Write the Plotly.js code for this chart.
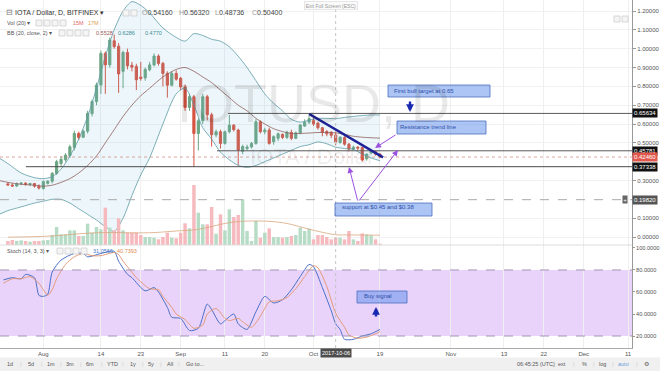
<!DOCTYPE html>
<html><head><meta charset="utf-8">
<script src="https://cdn.plot.ly/plotly-3.0.1.min.js"></script>
<style>html,body{margin:0;padding:0;background:#fff;}#chart{width:660px;height:371px;}</style>
</head><body><div id="chart"></div>
<script>
// ---------- DATA ----------
const dates = ['2017-07-24','2017-07-25','2017-07-26','2017-07-27','2017-07-28','2017-07-29','2017-07-30','2017-07-31',
'2017-08-01','2017-08-02','2017-08-03','2017-08-04','2017-08-05','2017-08-06','2017-08-07','2017-08-08','2017-08-09','2017-08-10',
'2017-08-11','2017-08-12','2017-08-13','2017-08-14','2017-08-15','2017-08-16','2017-08-17','2017-08-18','2017-08-19','2017-08-20',
'2017-08-21','2017-08-22','2017-08-23','2017-08-24','2017-08-25','2017-08-26','2017-08-27','2017-08-28','2017-08-29','2017-08-30','2017-08-31',
'2017-09-01','2017-09-02','2017-09-03','2017-09-04','2017-09-05','2017-09-06','2017-09-07','2017-09-08','2017-09-09','2017-09-10',
'2017-09-11','2017-09-12','2017-09-13','2017-09-14','2017-09-15','2017-09-16','2017-09-17','2017-09-18','2017-09-19','2017-09-20',
'2017-09-21','2017-09-22','2017-09-23','2017-09-24','2017-09-25','2017-09-26','2017-09-27','2017-09-28','2017-09-29','2017-09-30',
'2017-10-01','2017-10-02','2017-10-03','2017-10-04','2017-10-05','2017-10-06','2017-10-07','2017-10-08','2017-10-09','2017-10-10',
'2017-10-11','2017-10-12','2017-10-13','2017-10-14','2017-10-15','2017-10-16'];

const openP = [0.282,0.276,0.271,0.283,0.286,0.279,0.284,0.270,0.258,0.285,
0.296,0.338,0.390,0.410,0.432,0.475,0.550,0.530,0.562,0.655,
0.719,0.807,0.975,0.914,1.042,1.013,0.880,0.980,0.912,0.906,
0.849,0.845,0.888,0.914,0.961,0.922,0.869,0.806,0.869,0.843,
0.797,0.688,0.745,0.550,0.617,0.745,0.649,0.542,0.559,0.497,
0.559,0.594,0.568,0.455,0.470,0.478,0.497,0.612,0.559,0.568,
0.506,0.524,0.545,0.529,0.556,0.524,0.553,0.589,0.610,0.618,
0.605,0.580,0.560,0.556,0.5416,0.502,0.528,0.493,0.467,0.477,
0.475,0.415,0.447,0.453,0.440];
const highP = [0.290,0.285,0.290,0.292,0.291,0.288,0.287,0.280,0.300,0.302,
0.345,0.410,0.430,0.445,0.490,0.565,0.560,0.570,0.670,0.730,
0.820,0.990,0.985,1.060,1.075,1.030,0.990,1.000,0.930,0.920,
0.930,0.900,0.930,0.975,0.970,0.930,0.880,0.880,0.885,0.850,
0.810,0.760,0.755,0.630,0.760,0.755,0.660,0.570,0.570,0.565,
0.648,0.600,0.575,0.490,0.490,0.505,0.625,0.620,0.580,0.580,
0.540,0.555,0.550,0.565,0.570,0.560,0.600,0.625,0.652,0.635,
0.612,0.585,0.568,0.562,0.5632,0.535,0.535,0.500,0.485,0.482,
0.480,0.445,0.462,0.458,0.445];
const lowP = [0.272,0.266,0.266,0.275,0.272,0.270,0.262,0.252,0.252,0.278,
0.285,0.330,0.375,0.400,0.420,0.460,0.515,0.525,0.550,0.640,
0.700,0.760,0.760,0.900,1.000,0.765,0.790,0.890,0.880,0.780,
0.830,0.830,0.880,0.905,0.910,0.800,0.740,0.800,0.830,0.780,
0.670,0.670,0.372,0.460,0.600,0.620,0.480,0.530,0.470,0.490,
0.550,0.560,0.382,0.440,0.460,0.470,0.490,0.550,0.545,0.490,
0.490,0.510,0.520,0.520,0.515,0.520,0.545,0.585,0.600,0.590,
0.570,0.535,0.535,0.525,0.48736,0.495,0.485,0.455,0.460,0.462,
0.400,0.405,0.440,0.432,0.420];
const closeP = [0.276,0.271,0.283,0.286,0.279,0.284,0.270,0.260,0.294,0.296,
0.338,0.400,0.413,0.435,0.479,0.550,0.528,0.562,0.657,0.719,
0.807,0.975,0.914,1.046,1.011,0.866,0.980,0.909,0.902,0.835,
0.842,0.890,0.914,0.961,0.922,0.869,0.806,0.869,0.838,0.797,
0.688,0.745,0.550,0.617,0.745,0.649,0.543,0.559,0.497,0.559,
0.594,0.570,0.462,0.480,0.478,0.497,0.612,0.559,0.568,0.497,
0.533,0.548,0.529,0.556,0.524,0.553,0.595,0.610,0.628,0.600,
0.580,0.555,0.548,0.540,0.504,0.530,0.493,0.467,0.477,0.472,
0.409,0.440,0.457,0.440,0.4246];

// volume, millions
const volume = [8.2,10.2,8.2,9.5,8.2,6.8,8.2,8.2,9.5,10.2,
20.4,36.7,21.8,21.8,29.9,29.9,18.4,18.4,43.5,25.2,
36.7,32,76.2,35.4,29.9,54.4,29.9,25.2,25.2,25.2,
20.4,16.3,16.3,15,11.6,16.3,25.2,15,13.6,25.2,
44.2,34,122.4,66,42.2,42.2,77.5,23.1,62.6,29.9,
72.8,57.1,61.2,93.2,28.6,8.2,49,15,25.2,34,
16.3,16.3,15,16.3,18.4,20.4,35.4,28.6,33.3,11.6,
20.4,20.4,16.3,11.6,15,15,11.6,28.6,11.6,8.2,
23.8,21.8,19.7,11.6,2.7];
const volMaDates = ['2017-07-24','2017-08-02','2017-08-13','2017-08-25','2017-08-31','2017-09-05','2017-09-12','2017-09-17','2017-09-24','2017-10-01','2017-10-06','2017-10-09','2017-10-16'];
const volMa = [16,18,25,25,28.6,32,45.6,49,45.6,30,21,20.5,20];

// Bollinger Bands (20, close, 2)
const bbDates = ['2017-07-22','2017-07-24','2017-07-27','2017-07-30','2017-08-01','2017-08-03','2017-08-05','2017-08-07','2017-08-09','2017-08-11',
'2017-08-13','2017-08-15','2017-08-17','2017-08-19','2017-08-21','2017-08-23','2017-08-25','2017-08-28','2017-08-31','2017-09-02',
'2017-09-04','2017-09-06','2017-09-08','2017-09-10','2017-09-12','2017-09-14','2017-09-16','2017-09-18','2017-09-20','2017-09-22',
'2017-09-24','2017-09-26','2017-09-28','2017-09-30','2017-10-02','2017-10-04','2017-10-06','2017-10-08','2017-10-10','2017-10-12','2017-10-14','2017-10-16'];
const bbUpper = [0.42,0.39,0.34,0.315,0.31,0.32,0.36,0.43,0.52,0.64,
0.79,0.96,1.10,1.20,1.25,1.23,1.19,1.11,1.06,1.04,
1.08,1.07,1.05,1.04,1.01,0.96,0.90,0.83,0.76,0.71,
0.67,0.625,0.61,0.62,0.63,0.63,0.6286,0.635,0.64,0.645,0.648,0.648];
const bbBasis = [0.30,0.29,0.28,0.275,0.27,0.275,0.29,0.31,0.34,0.38,
0.43,0.50,0.57,0.64,0.70,0.75,0.79,0.85,0.89,0.90,
0.88,0.85,0.82,0.78,0.74,0.70,0.67,0.63,0.60,0.575,
0.56,0.55,0.55,0.552,0.555,0.555,0.5528,0.545,0.535,0.53,0.527,0.525];
const bbLower = [0.12,0.14,0.16,0.18,0.19,0.20,0.20,0.18,0.15,0.12,
0.09,0.055,0.03,0.10,0.22,0.33,0.42,0.60,0.76,0.79,
0.70,0.58,0.52,0.45,0.41,0.38,0.37,0.38,0.40,0.42,
0.44,0.46,0.48,0.49,0.505,0.495,0.477,0.47,0.465,0.44,0.42,0.405];

// Stochastic (14, 3, 3)
const stochKDates = ['2017-07-23','2017-07-25','2017-07-27','2017-07-28','2017-07-30','2017-07-31','2017-08-01','2017-08-02','2017-08-03','2017-08-05',
'2017-08-08','2017-08-10','2017-08-11','2017-08-14','2017-08-17','2017-08-18','2017-08-20','2017-08-21','2017-08-24','2017-08-26',
'2017-08-27','2017-08-29','2017-08-30','2017-09-01','2017-09-03','2017-09-05','2017-09-07','2017-09-08','2017-09-10','2017-09-11',
'2017-09-13','2017-09-14','2017-09-16','2017-09-18','2017-09-20','2017-09-22','2017-09-24','2017-09-26','2017-09-28','2017-09-30',
'2017-10-01','2017-10-03','2017-10-05','2017-10-06','2017-10-07','2017-10-08','2017-10-10','2017-10-12','2017-10-14','2017-10-16'];
const stochK = [71,73,72,76,73,57,56,58,78,89,
95,95,92,95,97,88,76,73,61,64,
60,46,37,36,25,27,49,44,31,34,
40,31,26,42,56,50,53,62,74,85,
83,64,43,31.06,26,17,17,20,22,26];
const stochDDates = ['2017-07-23','2017-07-25','2017-07-27','2017-07-29','2017-07-31','2017-08-01','2017-08-02','2017-08-03','2017-08-04','2017-08-06',
'2017-08-08','2017-08-10','2017-08-12','2017-08-14','2017-08-17','2017-08-18','2017-08-19','2017-08-21','2017-08-22','2017-08-25',
'2017-08-27','2017-08-28','2017-08-30','2017-08-31','2017-09-02','2017-09-04','2017-09-06','2017-09-07','2017-09-09','2017-09-11',
'2017-09-12','2017-09-14','2017-09-15','2017-09-17','2017-09-19','2017-09-21','2017-09-23','2017-09-25','2017-09-27','2017-09-29',
'2017-10-01','2017-10-02','2017-10-04','2017-10-06','2017-10-08','2017-10-09','2017-10-11','2017-10-13','2017-10-15','2017-10-16'];
const stochD = [68,72,72,74,68,62,57,62,72,85,
92,95,93,93,96,94,88,78,73,63,
62,56,46,40,35,27,30,40,45,36,
34,36,33,28,38,51,52,55,63,74,
84,82,65,40.74,28,21,18,19,22,24];

// axes ticks / labels (0.2 and 0.4 sit under the level labels and are not shown)
const priceTicks = [0,0.1,0.3,0.5,0.6,0.7,0.8,0.9,1.0,1.1,1.2];
const priceTickText = ['0.00000','0.10000','0.30000','0.50000','0.60000','0.70000','0.80000','0.90000','1.00000','1.10000','1.20000'];
const stochTicks = [20,40,60,80,100];
const stochTickText = ['20.0000','40.0000','60.0000','80.0000','100.0000'];
const xTickDates = ['2017-08-01','2017-08-14','2017-08-23','2017-09-01','2017-09-11','2017-09-20','2017-10-01','2017-10-16','2017-11-01','2017-11-13','2017-11-22','2017-12-01','2017-12-11'];
const xTickText = ['Aug','14','23','Sep','11','20','Oct','19','Nov','13','22','Dec','11'];

// marked levels
const lvlTarget = 0.65634, lvlResist = 0.45781, lvlLast = 0.42460, lvlSupport = 0.37338, lvlCross = 0.19820;
const trendStart = ['2017-09-30 01:00', 0.653], trendEnd = ['2017-10-16 17:00', 0.423];

// ---------- LAYOUT HELPERS ----------
const PW = 632, PH = 348;
const px = x => x / PW;
const py = y => 1 - y / PH;
const FONT = 'Liberation Sans, Arial, sans-serif';
const XR = ['2017-07-22 05:15', '2017-12-11 21:40'];

const upC = '#6ba583', dnC = '#d75442';
const volColors = closeP.map((c, i) => c >= openP[i] ? '#b7dcc6' : '#f6b9be');

const traces = [
  {type:'scatter', mode:'lines', x:bbDates, y:bbUpper, line:{color:'#5c9aa6', width:0.8, shape:'spline', smoothing:0.8}, hoverinfo:'skip'},
  {type:'scatter', mode:'lines', x:bbDates, y:bbLower, line:{color:'#5c9aa6', width:0.8, shape:'spline', smoothing:0.8}, fill:'tonexty', fillcolor:'rgba(110,180,215,0.12)', hoverinfo:'skip'},
  {type:'scatter', mode:'lines', x:bbDates, y:bbBasis, line:{color:'#8e5d5a', width:0.8, shape:'spline', smoothing:0.8}, hoverinfo:'skip'},
  {type:'candlestick', x:dates, open:openP, high:highP, low:lowP, close:closeP,
   increasing:{line:{color:upC, width:1}, fillcolor:upC},
   decreasing:{line:{color:dnC, width:1}, fillcolor:dnC}, whiskerwidth:0, hoverinfo:'skip'},
  {type:'bar', x:dates, y:volume, yaxis:'y3', marker:{color:volColors, line:{width:0}}, hoverinfo:'skip'},
  {type:'scatter', mode:'lines', x:volMaDates, y:volMa, yaxis:'y3', line:{color:'#d9a77e', width:0.8, shape:'spline'}, hoverinfo:'skip'},
  {type:'scatter', mode:'lines', x:stochKDates, y:stochK, yaxis:'y2', line:{color:'#4a6fc6', width:1, shape:'spline', smoothing:0.7}, hoverinfo:'skip'},
  {type:'scatter', mode:'lines', x:stochDDates, y:stochD, yaxis:'y2', line:{color:'#e39a78', width:1, shape:'spline', smoothing:0.7}, hoverinfo:'skip'}
];

const shapes = [];
const annotations = [];
function hline(y, x0, color, dash, width){
  shapes.push({type:'line', xref:'x', yref:'y', x0:x0, x1:XR[1], y0:y, y1:y, line:{color:color, width:width||1, dash:dash||'solid'}});
}
function txt(x, y, text, size, color, opts){
  annotations.push(Object.assign({xref:'paper', yref:'paper', x:px(x), y:py(y), text:text, showarrow:false,
    xanchor:'left', yanchor:'middle', font:{family:FONT, size:size, color:color}}, opts||{}));
}
function icons(x0, y, n){
  for(let k=0;k<n;k++) shapes.push({type:'rect', xref:'paper', yref:'paper', x0:px(x0+k*8), x1:px(x0+k*8+6), y0:py(y+3), y1:py(y-3),
    line:{color:'#c9c9c9', width:0.7}, fillcolor:'#f5f5f5'});
}
function box(x0, y0, x1, y1){
  shapes.push({type:'rect', xref:'paper', yref:'paper', x0:px(x0), x1:px(x1), y0:py(y1), y1:py(y0),
    line:{color:'#4b6fbf', width:0.8}, fillcolor:'rgba(90,140,235,0.5)'});
}
function arrow(hx, hy, tx, ty, color, width, size){
  annotations.push({xref:'paper', yref:'paper', x:px(hx), y:py(hy), ax:tx-hx, ay:ty-hy, text:'', showarrow:true,
    arrowhead:2, arrowsize:size||1, arrowwidth:width||1, arrowcolor:color});
}

// stoch band and bounds
shapes.push({type:'rect', xref:'paper', yref:'y2', x0:0, x1:1, y0:20, y1:80, fillcolor:'#e9d3fb', line:{width:0}, layer:'below'});
[20,80].forEach(v => shapes.push({type:'line', xref:'paper', yref:'y2', x0:0, x1:1, y0:v, y1:v, line:{color:'#a095b5', width:1, dash:'dash'}}));
// panel separator
shapes.push({type:'line', xref:'paper', yref:'paper', x0:0, x1:1, y0:py(245), y1:py(245), line:{color:'#dddddd', width:1}});
// crosshair
shapes.push({type:'line', xref:'x', yref:'paper', x0:'2017-10-06', x1:'2017-10-06', y0:0, y1:1, line:{color:'#c4c4c4', width:1, dash:'dot'}});
hline(lvlCross, XR[0], '#aaaaaa', 'dash');
// levels
hline(lvlLast, XR[0], 'rgba(205,130,120,0.7)', 'dot');
hline(lvlTarget, '2017-09-11 17:00', '#5a5a5a');
hline(lvlResist, '2017-09-09 05:00', '#5a5a5a');
hline(lvlSupport, '2017-07-28 02:00', '#4a4a4a');
// trend line
shapes.push({type:'line', xref:'x', yref:'y', x0:trendStart[0], y0:trendStart[1], x1:trendEnd[0], y1:trendEnd[1], line:{color:'#1e2296', width:2.5}});

// watermark
txt(313, 103, 'IOTUSD, D', 54, 'rgba(0,0,0,0.085)', {xanchor:'center'});
txt(312, 156, 'IOTA / Dollar', 22, 'rgba(0,0,0,0.08)', {xanchor:'center'});

// header legends
txt(4, 13, '⊟', 8, '#777');
txt(13, 13, 'IOTA / Dollar, D, BITFINEX ▾', 7, '#333');
icons(123, 13, 2);
const ohlc = [['O','0.54160',140],['H','0.56320',177],['L','0.48736',213],['C','0.50400',250]];
ohlc.forEach(o => txt(o[2], 13, '<span style="color:#999">'+o[0]+'</span>'+o[1], 7, '#444'));
txt(5, 23, 'Vol (20) ▾', 5.5, '#555');
icons(36, 23, 4);
txt(71, 23, '15M', 5.5, '#e06a66');
txt(86, 23, '17M', 5.5, '#e0a050');
txt(5, 33, 'BB (20, close, 2) ▾', 5.5, '#555');
icons(59, 33, 4);
txt(94, 33, '0.5528', 5.5, '#9a5a55');
txt(116, 33, '0.6286', 5.5, '#3d8d95');
txt(143, 33, '0.4770', 5.5, '#3d8d95');
txt(5, 251, 'Stoch (14, 3, 3) ▾', 5.5, '#555');
icons(57, 251, 4);
txt(91, 251, '31.0566', 5.5, '#4a7acb');
txt(115, 251, '40.7393', 5.5, '#e08a50');
txt(331, 5.5, 'Exit Full Screen (ESC)', 5, '#999', {xanchor:'center', bgcolor:'#fafafa', bordercolor:'#dddddd', borderwidth:0.7, borderpad:1});
icons(614, 19, 2);

// text boxes
box(388, 85, 490, 97); txt(392, 90.7, 'First bull target at 0.65', 6, '#2f4fa8');
box(397, 121, 486, 134); txt(398, 126.5, 'Resistance trend line', 6, '#2f4fa8');
box(335, 203, 432, 216); txt(340, 207, 'support at $0.45 and $0.38', 6, '#2f4fa8');
box(357, 291, 407, 303); txt(362, 295.7, 'Buy signal', 6, '#2f4fa8');

// arrows
const purple = '#9b52e0';
arrow(375, 148, 397, 134, purple, 1, 1.2);
arrow(349, 167, 358, 202, purple, 1, 1.2);
arrow(398, 150, 358, 202, purple, 1, 1.2);
arrow(410, 112, 410, 100, '#1a2ab0', 2.4, 0.65);
arrow(376, 307, 376, 318, '#1a2ab0', 2.4, 0.65);

// right-axis price labels
function plabel(v, text, bg){
  annotations.push({xref:'paper', yref:'y', x:1, y:v, text:text, showarrow:false, xanchor:'left', yanchor:'middle', xshift:0,
    bgcolor:bg, borderpad:1, font:{family:FONT, size:6, color:'#fff'}});
}
plabel(lvlTarget, '0.65634', '#111');
plabel(lvlResist, '0.45781', '#111');
plabel(lvlLast, '0.42460', '#e0574c');
plabel(lvlSupport, '0.37338', '#111');
plabel(lvlCross, '0.19820', '#555');
annotations.push({xref:'paper', yref:'y', x:px(628), y:lvlCross, text:'+', showarrow:false, xanchor:'right', yanchor:'middle',
  bgcolor:'#666', borderpad:0.5, font:{family:FONT, size:5.5, color:'#fff'}});
// crosshair date label
annotations.push({xref:'x', yref:'paper', x:'2017-10-06', y:py(353), text:'2017-10-06', showarrow:false, xanchor:'center', yanchor:'middle',
  bgcolor:'#4d4d4d', borderpad:1, font:{family:FONT, size:5.5, color:'#fff'}});

// bottom toolbar
shapes.push({type:'rect', xref:'paper', yref:'paper', x0:0, x1:660/PW, y0:py(371), y1:py(357.5), fillcolor:'#f0f0f0', line:{width:0}});
const btn = [['1d',10],['5d',31],['1m',51],['3m',70],['6m',90],['YTD',112],['1y',133],['5y',151],['All',170],['Go to...',195]];
btn.forEach((b,k) => {
  txt(b[1], 364, b[0], 5.5, '#555', {xanchor:'center'});
  if(k < btn.length-1) txt((b[1]+btn[k+1][1])/2 + (k===btn.length-2?-4:0), 364, '|', 5.5, '#ccc', {xanchor:'center'});
});
const rbtn = [['06:45:25 (UTC)',536,'#555'],['ext',562,'#555'],['%',584,'#555'],['log',602,'#555'],['auto',623,'#6a9fd8'],['⚙',647,'#666']];
rbtn.forEach(b => txt(b[1], 364, b[0], 5.5, b[2], {xanchor:'center'}));
[554,573,593,612,636].forEach(x => txt(x, 364, '|', 5.5, '#ccc', {xanchor:'center'}));

const layout = {
  width:660, height:371,
  margin:{l:0, r:28, t:0, b:23, pad:0},
  paper_bgcolor:'#ffffff', plot_bgcolor:'#ffffff',
  showlegend:false, bargap:0.22,
  font:{family:FONT, size:6, color:'#555'},
  xaxis:{type:'date', range:XR, anchor:'y2', rangeslider:{visible:false},
    tickmode:'array', tickvals:xTickDates, ticktext:xTickText, tickfont:{size:6, color:'#555'},
    showgrid:true, gridcolor:'#efefef', gridwidth:1, ticks:'', showline:true, linecolor:'#aaaaaa', zeroline:false, fixedrange:true},
  yaxis:{domain:[1-245/PH, 1], range:[-0.0425, 1.2586], side:'right',
    tickmode:'array', tickvals:priceTicks, ticktext:priceTickText, tickfont:{size:6, color:'#555'},
    showgrid:true, gridcolor:'#f1f1f1', showline:true, linecolor:'#999', ticks:'outside', ticklen:3, tickcolor:'#999', zeroline:false},
  yaxis2:{domain:[0, 1-245/PH], range:[9.1, 102.7], side:'right',
    tickmode:'array', tickvals:stochTicks, ticktext:stochTickText, tickfont:{size:5.6, color:'#555'},
    showgrid:false, showline:true, linecolor:'#999', ticks:'outside', ticklen:2, tickcolor:'#999', zeroline:false},
  yaxis3:{overlaying:'y', range:[0, 500], visible:false, showgrid:false, zeroline:false},
  shapes:shapes, annotations:annotations
};

Plotly.newPlot('chart', traces, layout, {staticPlot:true, displayModeBar:false});
</script>
</body></html>
